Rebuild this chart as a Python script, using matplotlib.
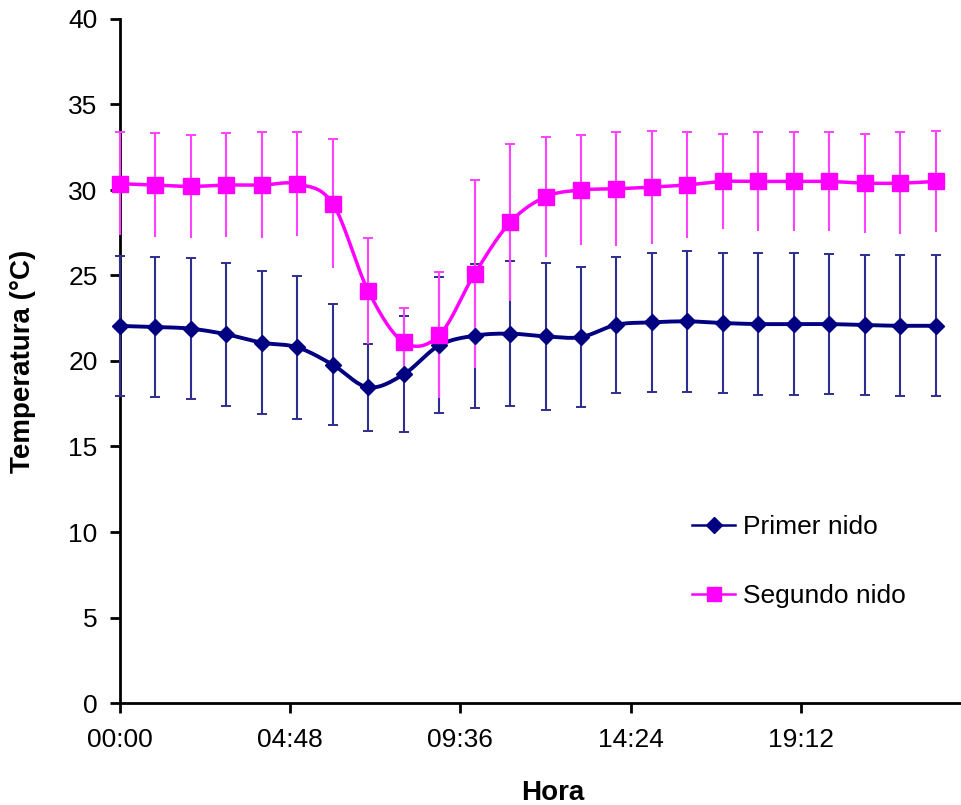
import numpy as np
import matplotlib
matplotlib.use("Agg")
import matplotlib.pyplot as plt
from matplotlib.ticker import FuncFormatter

# hourly readings, 00:00 .. 23:00
horas = list(range(24))

primer = [22.05, 21.99, 21.89, 21.56, 21.07, 20.80, 19.78, 18.46, 19.22, 20.91, 21.48, 21.60,
          21.44, 21.40, 22.12, 22.26, 22.32, 22.22, 22.16, 22.16, 22.16, 22.10, 22.06, 22.06]
primer_err = [4.11, 4.09, 4.13, 4.19, 4.17, 4.19, 3.55, 2.53, 3.39, 3.98, 4.20, 4.25,
              4.31, 4.10, 3.98, 4.07, 4.11, 4.11, 4.17, 4.17, 4.10, 4.08, 4.12, 4.12]

segundo = [30.37, 30.29, 30.21, 30.29, 30.29, 30.35, 29.20, 24.10, 21.10, 21.50, 25.10, 28.10,
           29.60, 30.00, 30.07, 30.17, 30.30, 30.50, 30.50, 30.50, 30.50, 30.40, 30.40, 30.50]
segundo_err = [3.02, 3.02, 2.99, 3.02, 3.10, 3.04, 3.76, 3.09, 2.00, 3.68, 5.50, 4.60,
               3.50, 3.20, 3.33, 3.30, 3.10, 2.80, 2.90, 2.90, 2.90, 2.90, 3.00, 2.97]

xticks = [0, 4.8, 9.6, 14.4, 19.2]
yticks = list(range(0, 41, 5))

NAVY = "#000080"
NAVY_ERR = "#2E2E8F"
PINK = "#FF00FF"
PINK_ERR = "#FF40FF"
FS = 19
FS_LAB = 20


def suave(x, y, n=20):
    # excel-like smoothed line (bezier through the points)
    x = np.asarray(x, float)
    y = np.asarray(y, float)
    px = np.concatenate([[x[0]], x, [x[-1]]])
    py = np.concatenate([[y[0]], y, [y[-1]]])
    xs, ys = [], []
    t = np.linspace(0, 1, n)
    for i in range(1, len(px) - 2):
        p0 = np.array([px[i], py[i]])
        p3 = np.array([px[i + 1], py[i + 1]])
        c1 = p0 + (np.array([px[i + 1], py[i + 1]]) - np.array([px[i - 1], py[i - 1]])) / 6
        c2 = p3 - (np.array([px[i + 2], py[i + 2]]) - np.array([px[i], py[i]])) / 6
        b = ((1 - t) ** 3)[:, None] * p0 + (3 * (1 - t) ** 2 * t)[:, None] * c1 \
            + (3 * (1 - t) * t ** 2)[:, None] * c2 + (t ** 3)[:, None] * p3
        xs.extend(b[:, 0])
        ys.extend(b[:, 1])
    return xs, ys


plt.rcParams['font.family'] = ['Liberation Sans', 'DejaVu Sans']

fig = plt.figure(figsize=(9.61, 8.05), dpi=100)
ax = fig.add_axes([120 / 961, 102 / 805, (971 - 120) / 961, 684 / 805])

# primer nido: error bars with caps on both ends
ax.errorbar(horas, primer, yerr=primer_err, fmt='none', ecolor=NAVY_ERR, elinewidth=1.5,
            capsize=3.8, capthick=1.4, zorder=3, clip_on=False)
# segundo nido: caps only on top
seg = np.array(segundo)
se = np.array(segundo_err)
ax.vlines(horas, seg - se, seg + se, color=PINK_ERR, lw=1.5, zorder=3.1, clip_on=False)
ax.plot(horas, seg + se, ls='none', marker='_', ms=7.6, mew=1.4, color=PINK_ERR, zorder=3.1,
        clip_on=False)

sx, sy = suave(horas, primer)
ax.plot(sx, sy, color=NAVY, lw=2.8, zorder=4, clip_on=False)
ax.plot(horas, primer, ls='none', marker='D', ms=8.5, color=NAVY, zorder=4.1, clip_on=False)

sx, sy = suave(horas, segundo)
ax.plot(sx, sy, color=PINK, lw=2.5, zorder=5, clip_on=False)
ax.plot(horas, segundo, ls='none', marker='s', ms=11, color=PINK, zorder=5.1, clip_on=False)

# legend proxies
h1, = ax.plot([], [], color=NAVY, lw=1.8, marker='D', ms=8, label='Primer nido')
h2, = ax.plot([], [], color=PINK, lw=1.8, marker='s', ms=10.5, label='Segundo nido')
fig.legend(handles=[h1, h2], loc='upper left', bbox_to_anchor=(692 / 961, 1 - 515 / 805),
           frameon=False, fontsize=FS, borderpad=0, borderaxespad=0, handlelength=1.63,
           handletextpad=0.3, labelspacing=1.71)

ax.set_xlim(0, 24)
ax.set_ylim(0, 40)
ax.set_xticks(xticks)
ax.set_yticks(yticks)
ax.xaxis.set_major_formatter(FuncFormatter(lambda v, p: "%02d:%02d" % (int(v), round((v - int(v)) * 60))))

for s in ['top', 'right']:
    ax.spines[s].set_visible(False)
for s in ['left', 'bottom']:
    ax.spines[s].set_linewidth(2)
    ax.spines[s].set_zorder(2)
ax.tick_params(axis='both', direction='out', length=7.2, width=2, labelsize=FS, colors='black')
ax.tick_params(axis='y', pad=9)
ax.tick_params(axis='x', pad=11)

ax.set_ylabel('Temperatura (°C)', fontsize=FS_LAB, fontweight='bold', va='center')
ax.yaxis.set_label_coords(-(120 - 23) / 851, 0.5)
ax.set_xlabel('Hora', fontsize=FS_LAB, fontweight='bold', va='center')
ax.xaxis.set_label_coords((553 - 120) / 851, -(793 - 703) / 684)

fig.savefig("out.png", dpi=100)
